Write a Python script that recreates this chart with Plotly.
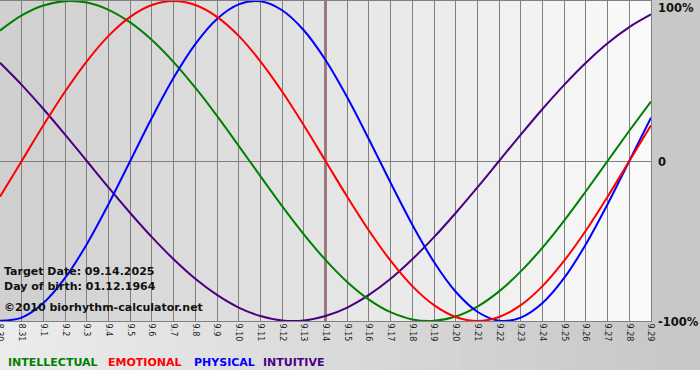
import plotly.graph_objects as go

# ---- data ----
days = ["8.30", "8.31", "9.1", "9.2", "9.3", "9.4", "9.5", "9.6", "9.7", "9.8",
        "9.9", "9.10", "9.11", "9.12", "9.13", "9.14", "9.15", "9.16", "9.17",
        "9.18", "9.19", "9.20", "9.21", "9.22", "9.23", "9.24", "9.25", "9.26",
        "9.27", "9.28", "9.29"]

physical = [-0.998, -0.979, -0.888, -0.731, -0.520, -0.270, 0.0, 0.270, 0.520, 0.731,
            0.888, 0.979, 0.998, 0.942, 0.817, 0.631, 0.398, 0.136, -0.136, -0.398,
            -0.631, -0.817, -0.942, -0.998, -0.979, -0.888, -0.731, -0.520, -0.270,
            0.0, 0.270]
emotional = [-0.223, 0.0, 0.223, 0.434, 0.623, 0.782, 0.901, 0.975, 1.0, 0.975,
             0.901, 0.782, 0.623, 0.434, 0.223, 0.0, -0.223, -0.434, -0.623, -0.782,
             -0.901, -0.975, -1.0, -0.975, -0.901, -0.782, -0.623, -0.434, -0.223,
             0.0, 0.223]
intellectual = [0.815, 0.910, 0.972, 0.999, 0.990, 0.945, 0.866, 0.756, 0.618, 0.458,
                0.282, 0.095, -0.095, -0.282, -0.458, -0.618, -0.756, -0.866, -0.945,
                -0.990, -0.999, -0.972, -0.910, -0.815, -0.690, -0.541, -0.372, -0.189,
                0.0, 0.189, 0.372]
intuitive = [0.614, 0.476, 0.325, 0.165, 0.0, -0.165, -0.325, -0.476, -0.614, -0.736,
             -0.837, -0.916, -0.969, -0.997, -0.997, -0.969, -0.916, -0.837, -0.736,
             -0.614, -0.476, -0.325, -0.165, 0.0, 0.165, 0.325, 0.476, 0.614, 0.736,
             0.837, 0.916]

target_day = "9.14"
target_date = "09.14.2025"
birth_date = "01.12.1964"

series_names = ["INTELLECTUAL", "EMOTIONAL", "PHYSICAL", "INTUITIVE"]
series_colors = ["#008000", "#ff0000", "#0000ff", "#4b0082"]

# ---- figure ----
W, H = 700, 380
ML, MR, MT, MB = 0, 49, 1, 59
PW, PH = W - ML - MR, H - MT - MB


def px2x(px):
    return (px - ML) / PW


def px2y(py):
    return (MT + PH - py) / PH


fig = go.Figure()

series_data = {"INTELLECTUAL": intellectual, "EMOTIONAL": emotional,
               "PHYSICAL": physical, "INTUITIVE": intuitive}
color_map = dict(zip(series_names, series_colors))
for name in ["INTUITIVE", "INTELLECTUAL", "PHYSICAL", "EMOTIONAL"]:
    fig.add_trace(go.Scatter(
        x=days, y=series_data[name], mode="lines", name=name,
        line=dict(color=color_map[name], width=2, shape="spline", smoothing=1.0),
        hoverinfo="skip", showlegend=False))

shapes = []
# plot-area column shading (gradient dark left -> light right)
n = len(days) - 1
for i in range(n):
    g = int(round(207 + (250 - 207) * (i + 0.5) / n))
    shapes.append(dict(type="rect", xref="x", yref="paper", x0=i, x1=i + 1,
                       y0=0, y1=1, fillcolor=f"rgb({g},{g},{g})",
                       line=dict(width=0), layer="below"))
# right margin panel
shapes.append(dict(type="rect", xref="paper", yref="paper", x0=1, x1=px2x(W),
                   y0=px2y(MT + PH), y1=px2y(0), fillcolor="rgb(200,200,200)",
                   line=dict(width=0), layer="below"))
# bottom panel gradient
strips = 35
for i in range(strips):
    g = int(round(236 - (236 - 198) * (i + 0.5) / strips))
    shapes.append(dict(type="rect", xref="paper", yref="paper",
                       x0=px2x(W * i / strips), x1=px2x(W * (i + 1) / strips + 0.5),
                       y0=px2y(370), y1=px2y(MT + PH), fillcolor=f"rgb({g},{g},{g})",
                       line=dict(width=0), layer="below"))
# target day marker
shapes.append(dict(type="line", xref="x", yref="paper", x0=days.index(target_day),
                   x1=days.index(target_day), y0=0, y1=1,
                   line=dict(color="#6e1010", width=2), layer="between"))

fnt = "DejaVu Sans, Verdana, sans-serif"
annotations = []
for txt, py in [(f"<b>Target Date: {target_date}</b>", 271),
                (f"<b>Day of birth: {birth_date}</b>", 286),
                ("<b>©2010 biorhythm-calculator.net</b>", 307)]:
    annotations.append(dict(text=txt, xref="paper", yref="paper", x=px2x(2), y=px2y(py),
                            xanchor="left", yanchor="middle", showarrow=False,
                            font=dict(family=fnt, size=11, color="#111")))
for txt, py in [("100%", 8), ("0", 162), ("-100%", 322)]:
    annotations.append(dict(text=f"<b>{txt}</b>", xref="paper", yref="paper",
                            x=px2x(656), y=px2y(py), xanchor="left", yanchor="middle",
                            showarrow=False, font=dict(family=fnt, size=11.5, color="#111")))
legend_x = [6, 106, 192, 261]
for name, lx in zip(series_names, legend_x):
    annotations.append(dict(text=f"<b>{name}</b>", xref="paper", yref="paper",
                            x=px2x(lx), y=px2y(362), xanchor="left", yanchor="middle",
                            showarrow=False,
                            font=dict(family=fnt, size=11, color=color_map[name])))

fig.update_layout(
    width=W, height=H,
    margin=dict(l=ML, r=MR, t=MT, b=MB, pad=0, autoexpand=False),
    paper_bgcolor="white", plot_bgcolor="rgba(0,0,0,0)",
    shapes=shapes, annotations=annotations, showlegend=False,
    xaxis=dict(type="category", range=[0, n], tickmode="array", tickvals=days,
               ticktext=days, tickangle=90, showgrid=True, gridcolor="#808080",
               gridwidth=1, showline=True, linecolor="#808080", linewidth=1,
               mirror=True, ticks="", zeroline=False, fixedrange=True,
               automargin=False,
               tickfont=dict(family=fnt, size=8, color="#222")),
    yaxis=dict(range=[-1, 1], showgrid=False, zeroline=True, zerolinecolor="#808080",
               zerolinewidth=1, showticklabels=False, showline=True,
               linecolor="#808080", linewidth=1, mirror=True, ticks="",
               fixedrange=True, automargin=False),
)

fig.write_html("out.html", config={"displayModeBar": False},
               post_script="document.body.style.margin='0';document.body.style.overflow='hidden';")
